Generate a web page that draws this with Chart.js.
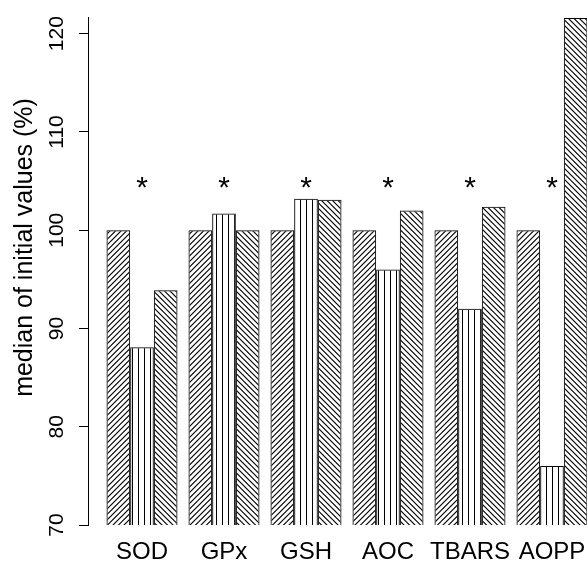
<!DOCTYPE html>
<html lang="en">
<head>
<meta charset="UTF-8">
<title>median of initial values (%)</title>
<script src="https://cdn.jsdelivr.net/npm/chart.js@4.4.1/dist/chart.umd.min.js"></script>
<style>
    html, body { margin: 0; padding: 0; background: #fff; overflow: hidden; }
    canvas { display: block; }
</style>
</head>
<body>
<canvas id="medianChart" width="587" height="562"></canvas>
<script>
// Categorias do eixo x
const categories = ['SOD', 'GPx', 'GSH', 'AOC', 'TBARS', 'AOPP'];
// Valores de cada série (mediana em % do valor inicial)
const series1 = [100, 100, 100, 100, 100, 100];
const series2 = [88.1, 101.7, 103.2, 96.0, 92.0, 76.0];
const series3 = [93.9, 100, 103.1, 102.0, 102.4, 121.6];
// Marcas de significância sobre a barra do meio
const significance = ['*', '*', '*', '*', '*', '*'];
const significanceLevel = 104.8;
// Marcas do eixo y
const yTicks = [70, 80, 90, 100, 110, 120];

const fontFamily = '"Liberation Sans", Arial, Helvetica, sans-serif';

// Cria um pequeno canvas com o padrão de hachura
function hatch(kind, spacing) {
    const c = document.createElement('canvas');
    const ctx = c.getContext('2d');
    if (kind === 'vertical') {
        c.width = spacing;
        c.height = 1;
        ctx.strokeStyle = '#000';
        ctx.lineWidth = 1;
        ctx.beginPath();
        ctx.moveTo(0.5, 0);
        ctx.lineTo(0.5, 1);
        ctx.stroke();
        return c;
    }
    const size = spacing * 2;
    c.width = size;
    c.height = size;
    ctx.strokeStyle = '#000';
    ctx.lineWidth = 1.15;
    ctx.beginPath();
    for (let k = -2; k <= 6; k++) {
        const d = k * spacing;
        if (kind === 'forward') {
            // linhas "/"
            ctx.moveTo(d + 1, -1);
            ctx.lineTo(d - size - 1, size + 1);
        } else {
            // linhas "\"
            ctx.moveTo(d - size - 1, -1);
            ctx.lineTo(d + 1, size + 1);
        }
    }
    ctx.stroke();
    return c;
}

// Converte a lista de valores em pontos {x, y} para a escala linear
const toPoints = values => values.map((v, i) => ({ x: i, y: v }));

// Plugin que escreve os asteriscos acima da segunda barra
const significancePlugin = {
    id: 'significance',
    afterDatasetsDraw(chart) {
        const ctx = chart.ctx;
        const meta = chart.getDatasetMeta(1);
        const y = chart.scales.y.getPixelForValue(significanceLevel);
        ctx.save();
        ctx.fillStyle = '#000';
        ctx.font = '30px ' + fontFamily;
        ctx.textAlign = 'center';
        ctx.textBaseline = 'alphabetic';
        meta.data.forEach((bar, i) => {
            ctx.fillText(significance[i], bar.x, y + 30 * 0.46);
        });
        ctx.restore();
    }
};

// Plugin que escreve o título do eixo y
const yTitlePlugin = {
    id: 'yTitle',
    afterDraw(chart) {
        const ctx = chart.ctx;
        ctx.save();
        ctx.translate(chart.scales.y.left + 31.5, 247.5);
        ctx.rotate(-Math.PI / 2);
        ctx.fillStyle = '#000';
        ctx.font = '25px ' + fontFamily;
        ctx.textAlign = 'center';
        ctx.textBaseline = 'alphabetic';
        ctx.fillText('median of initial values (%)', 0, 0);
        ctx.restore();
    }
};

const chartCtx = document.getElementById('medianChart').getContext('2d');
const fills = [
    chartCtx.createPattern(hatch('forward', 5.5), 'repeat'),
    chartCtx.createPattern(hatch('vertical', 6), 'repeat'),
    chartCtx.createPattern(hatch('back', 5.5), 'repeat')
];

const barStyle = {
    borderColor: '#000',
    borderWidth: 1,
    borderSkipped: false,
    categoryPercentage: 0.866,
    barPercentage: 1
};

const medianChart = new Chart(chartCtx, {
    type: 'bar',
    data: {
        datasets: [
            Object.assign({ label: 'series 1', data: toPoints(series1), backgroundColor: fills[0] }, barStyle),
            Object.assign({ label: 'series 2', data: toPoints(series2), backgroundColor: fills[1] }, barStyle),
            Object.assign({ label: 'series 3', data: toPoints(series3), backgroundColor: fills[2] }, barStyle)
        ]
    },
    options: {
        responsive: false,
        animation: false,
        layout: { padding: { top: 17, right: 0, bottom: 0, left: 0 } },
        plugins: {
            legend: { display: false },
            tooltip: { enabled: false }
        },
        scales: {
            x: {
                type: 'linear',
                min: -0.6585,
                max: 5.427,
                offset: false,
                afterBuildTicks: scale => { scale.ticks = categories.map((c, i) => ({ value: i })); },
                afterFit: scale => { scale.height = 37; },
                grid: { display: true, drawOnChartArea: false, drawTicks: true, tickLength: 13, tickColor: 'rgba(0,0,0,0)' },
                border: { display: false },
                ticks: {
                    autoSkip: false,
                    minRotation: 0,
                    maxRotation: 0,
                    padding: 0,
                    color: '#000',
                    font: { family: fontFamily, size: 24 },
                    callback: value => categories[value] ?? ''
                }
            },
            y: {
                min: 70,
                max: 121.7,
                afterBuildTicks: scale => { scale.ticks = yTicks.map(v => ({ value: v })); },
                afterFit: scale => { scale.width = 88; },
                grid: { drawOnChartArea: false, tickLength: 9, color: '#000', tickColor: '#000', tickWidth: 1 },
                border: { display: true, color: '#000', width: 1 },
                ticks: {
                    minRotation: 90,
                    maxRotation: 90,
                    crossAlign: 'center',
                    padding: 4,
                    color: '#000',
                    font: { family: fontFamily, size: 21 }
                }
            }
        }
    },
    plugins: [significancePlugin, yTitlePlugin]
});
</script>
</body>
</html>
